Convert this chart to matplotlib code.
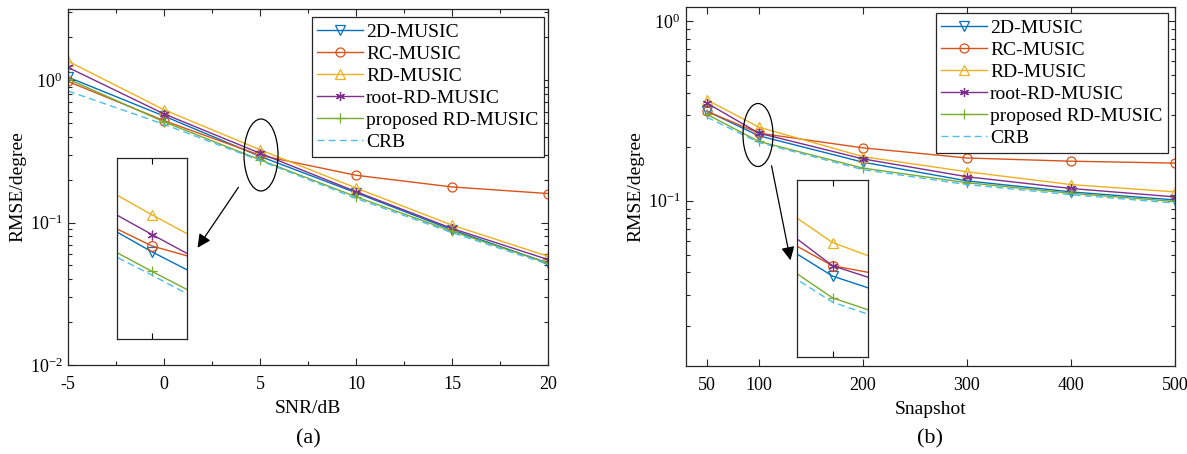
import numpy as np
import matplotlib
matplotlib.use('Agg')
import matplotlib.pyplot as plt
from matplotlib.patches import Ellipse, FancyArrowPatch
from matplotlib.ticker import LogLocator, NullFormatter, NullLocator, FixedLocator

plt.rcParams['font.family'] = ['Liberation Serif', 'DejaVu Serif']
plt.rcParams['mathtext.fontset'] = 'custom'
plt.rcParams['mathtext.rm'] = 'Liberation Serif'
plt.rcParams['mathtext.it'] = 'Liberation Serif:italic'
plt.rcParams['axes.unicode_minus'] = False

# (a) RMSE vs SNR
snr = [-5, 0, 5, 10, 15, 20]
a_2d = [1.05, 0.56, 0.292, 0.162, 0.089, 0.052]
a_rc = [0.98, 0.52, 0.297, 0.215, 0.178, 0.160]
a_rd = [1.36, 0.62, 0.325, 0.175, 0.096, 0.058]
a_root = [1.23, 0.58, 0.307, 0.165, 0.091, 0.055]
a_prop = [1.02, 0.51, 0.276, 0.152, 0.087, 0.052]
a_crb = [0.84, 0.49, 0.273, 0.148, 0.085, 0.051]

# (b) RMSE vs snapshots
snapshots = [50, 100, 200, 300, 400, 500]
b_2d = [0.316, 0.230, 0.164, 0.129, 0.112, 0.101]
b_rc = [0.315, 0.238, 0.197, 0.173, 0.166, 0.162]
b_rd = [0.365, 0.257, 0.176, 0.145, 0.123, 0.112]
b_root = [0.350, 0.238, 0.171, 0.136, 0.117, 0.105]
b_prop = [0.303, 0.214, 0.152, 0.126, 0.110, 0.099]
b_crb = [0.292, 0.211, 0.149, 0.123, 0.108, 0.097]

labels = ['2D-MUSIC', 'RC-MUSIC', 'RD-MUSIC', 'root-RD-MUSIC', 'proposed RD-MUSIC', 'CRB']
colors = ['#0072BD', '#D95319', '#EDB120', '#7E2F8E', '#77AC30', '#4DBEEE']
markers = ['v', 'o', '^', (6, 2, 0), '+', None]
styles = ['-', '-', '-', '-', '-', (0, (5, 3))]

W, H = 1187, 454
fig = plt.figure(figsize=(W / 100, H / 100), dpi=100)


def px_rect(x0, y0, x1, y1):
    return [x0 / W, 1 - y1 / H, (x1 - x0) / W, (y1 - y0) / H]


def draw_lines(ax, x, series, ms=6.5):
    for y, lab, c, m, ls in zip(series, labels, colors, markers, styles):
        ax.plot(x, y, color=c, ls=ls, lw=1.0, marker=m, ms=ms,
                mfc='none', mec=c, mew=0.9, label=lab)


def style_main(ax):
    ax.set_yscale('log')
    ax.tick_params(which='both', direction='in', top=True, right=True, labelsize=13,
                   width=0.8, color='#262626')
    ax.tick_params(which='major', length=5)
    ax.tick_params(which='minor', length=3)
    ax.tick_params(axis='x', pad=8)
    ax.tick_params(axis='y', pad=4)
    ax.yaxis.set_minor_locator(LogLocator(base=10, subs=np.arange(2, 10)))
    ax.yaxis.set_minor_formatter(NullFormatter())
    for s in ax.spines.values():
        s.set_linewidth(0.9)
        s.set_color('#262626')


def style_inset(ax, xc):
    ax.set_yscale('log')
    ax.xaxis.set_major_locator(FixedLocator([xc]))
    ax.xaxis.set_minor_locator(NullLocator())
    ax.yaxis.set_major_locator(NullLocator())
    ax.yaxis.set_minor_locator(NullLocator())
    ax.tick_params(which='both', direction='in', top=True, bottom=True,
                   labelbottom=False, labelleft=False, length=4, width=0.8)
    for s in ax.spines.values():
        s.set_linewidth(0.9)
        s.set_color('#262626')


def add_legend(ax, anchor):
    leg = ax.legend(loc='upper right', bbox_to_anchor=anchor, fontsize=14,
                    fancybox=False, edgecolor='#262626', framealpha=1, numpoints=1,
                    handlelength=2.35, handletextpad=0.15, labelspacing=0.23,
                    borderpad=0.3, borderaxespad=0)
    leg.get_frame().set_linewidth(0.9)


# ---------- panel (a)
ax1 = fig.add_axes(px_rect(68, 9, 548, 365))
draw_lines(ax1, snr, [a_2d, a_rc, a_rd, a_root, a_prop, a_crb])
style_main(ax1)
ax1.set_xlim(-5, 20)
ax1.set_ylim(1e-2, 10 ** 0.5)
ax1.set_xticks(snr)
ax1.set_xticks(np.arange(-2.5, 20, 5), minor=True)
ax1.set_xlabel('SNR/dB', fontsize=14, labelpad=5)
ax1.set_ylabel('RMSE/degree', fontsize=14, labelpad=2)
add_legend(ax1, (0.992, 0.977))

ins1 = fig.add_axes(px_rect(117, 158, 187, 339))
draw_lines(ins1, snr, [a_2d, a_rc, a_rd, a_root, a_prop, a_crb], ms=7)
style_inset(ins1, 5)
ins1.set_xlim(4.56, 5.44)
ins1.set_ylim(0.227, 0.383)

fig.add_artist(Ellipse((261 / W, 1 - 155 / H), 34 / W, 72 / H, transform=fig.transFigure,
                       fill=False, ec='black', lw=0.9))
fig.add_artist(FancyArrowPatch((240 / W, 1 - 185 / H), (196 / W, 1 - 250 / H),
                               transform=fig.transFigure, arrowstyle='-|>',
                               mutation_scale=20, color='black', lw=0.9))
fig.text(308 / W, 1 - 439 / H, '(a)', ha='center', va='center', fontsize=16)

# ---------- panel (b)
ax2 = fig.add_axes(px_rect(686, 7, 1175, 366))
draw_lines(ax2, snapshots, [b_2d, b_rc, b_rd, b_root, b_prop, b_crb])
style_main(ax2)
ax2.set_xlim(30, 500)
ax2.set_ylim(0.012, 1.2)
ax2.set_xticks(snapshots)
ax2.xaxis.set_minor_locator(NullLocator())
ax2.set_xlabel('Snapshot', fontsize=14, labelpad=5)
ax2.set_ylabel('RMSE/degree', fontsize=14, labelpad=2)
add_legend(ax2, (0.986, 0.983))

ins2 = fig.add_axes(px_rect(797, 180, 868, 357))
draw_lines(ins2, snapshots, [b_2d, b_rc, b_rd, b_root, b_prop, b_crb], ms=7)
style_inset(ins2, 100)
ins2.set_xlim(88.5, 111.5)
ins2.set_ylim(0.176, 0.316)

fig.add_artist(Ellipse((758 / W, 1 - 135 / H), 30 / W, 63 / H, transform=fig.transFigure,
                       fill=False, ec='black', lw=0.9))
fig.add_artist(FancyArrowPatch((771 / W, 1 - 163 / H), (791 / W, 1 - 263 / H),
                               transform=fig.transFigure, arrowstyle='-|>',
                               mutation_scale=20, color='black', lw=0.9))
fig.text(930 / W, 1 - 439 / H, '(b)', ha='center', va='center', fontsize=16)

fig.savefig('out.png', dpi=100)
